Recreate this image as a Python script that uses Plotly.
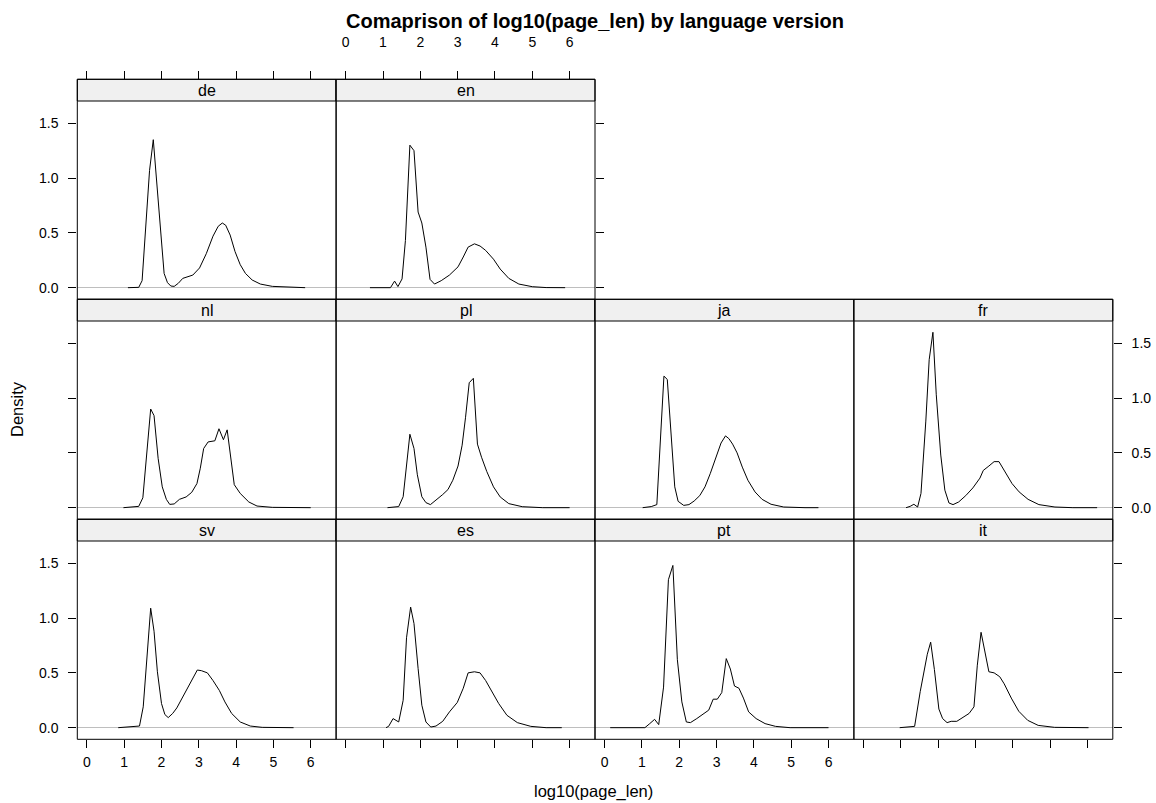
import plotly.graph_objects as go

W, H = 1156, 803

# ---------------- data ----------------
languages = ["de", "en", "nl", "pl", "ja", "fr", "sv", "es", "pt", "it"]

de_x = [1.10, 1.39, 1.48, 1.68, 1.78, 1.91, 1.98, 2.07, 2.16, 2.25, 2.34, 2.45, 2.57, 2.70, 2.84, 3.02, 3.20, 3.38, 3.52, 3.63, 3.72, 3.84, 3.97, 4.11, 4.25, 4.43, 4.65, 4.97, 5.43, 5.85]
de_y = [0.0, 0.003, 0.064, 1.07, 1.35, 0.80, 0.43, 0.13, 0.046, 0.015, 0.012, 0.04, 0.085, 0.10, 0.115, 0.18, 0.31, 0.47, 0.56, 0.59, 0.57, 0.48, 0.33, 0.21, 0.13, 0.07, 0.033, 0.012, 0.003, 0.0]

en_x = [0.65, 1.20, 1.31, 1.40, 1.51, 1.60, 1.72, 1.83, 1.94, 2.04, 2.15, 2.26, 2.38, 2.56, 2.78, 3.01, 3.15, 3.28, 3.45, 3.60, 3.75, 3.96, 4.14, 4.37, 4.64, 5.00, 5.37, 5.88]
en_y = [0.0, 0.0, 0.06, 0.01, 0.08, 0.43, 1.30, 1.25, 0.69, 0.59, 0.37, 0.076, 0.033, 0.064, 0.115, 0.19, 0.28, 0.37, 0.40, 0.38, 0.34, 0.26, 0.17, 0.085, 0.033, 0.009, 0.001, 0.0]

nl_x = [0.98, 1.39, 1.50, 1.71, 1.80, 1.91, 2.02, 2.13, 2.22, 2.34, 2.48, 2.66, 2.81, 2.95, 3.04, 3.13, 3.25, 3.43, 3.54, 3.66, 3.76, 3.86, 3.95, 4.11, 4.34, 4.56, 4.97, 6.00]
nl_y = [0.0, 0.012, 0.09, 0.90, 0.84, 0.45, 0.19, 0.076, 0.03, 0.034, 0.076, 0.098, 0.14, 0.22, 0.36, 0.54, 0.60, 0.61, 0.72, 0.62, 0.71, 0.45, 0.21, 0.13, 0.052, 0.015, 0.003, 0.0]

pl_x = [1.12, 1.42, 1.54, 1.72, 1.83, 1.92, 2.04, 2.15, 2.27, 2.42, 2.60, 2.74, 2.87, 3.01, 3.12, 3.21, 3.31, 3.42, 3.53, 3.64, 3.78, 3.96, 4.14, 4.37, 4.73, 5.28, 6.00]
pl_y = [0.0, 0.01, 0.10, 0.67, 0.54, 0.30, 0.10, 0.046, 0.028, 0.067, 0.12, 0.165, 0.25, 0.38, 0.57, 0.82, 1.14, 1.18, 0.58, 0.46, 0.33, 0.19, 0.098, 0.037, 0.009, 0.0, 0.0]

ja_x = [1.02, 1.25, 1.40, 1.59, 1.68, 1.78, 1.88, 1.97, 2.12, 2.26, 2.40, 2.55, 2.69, 2.83, 2.98, 3.12, 3.24, 3.33, 3.43, 3.55, 3.69, 3.84, 4.03, 4.22, 4.46, 4.80, 5.37, 5.73]
ja_y = [0.0, 0.01, 0.028, 1.20, 1.17, 0.63, 0.19, 0.058, 0.021, 0.028, 0.061, 0.11, 0.19, 0.31, 0.45, 0.59, 0.655, 0.63, 0.58, 0.50, 0.37, 0.25, 0.144, 0.076, 0.031, 0.006, 0.0, 0.0]

fr_x = [1.14, 1.25, 1.35, 1.45, 1.54, 1.67, 1.76, 1.86, 1.95, 2.07, 2.18, 2.29, 2.40, 2.55, 2.74, 2.93, 3.12, 3.21, 3.36, 3.50, 3.63, 3.79, 3.98, 4.17, 4.41, 4.70, 5.13, 5.61, 6.26]
fr_y = [0.0, 0.012, 0.031, 0.006, 0.13, 0.79, 1.35, 1.60, 1.03, 0.48, 0.16, 0.043, 0.028, 0.052, 0.11, 0.18, 0.27, 0.34, 0.38, 0.42, 0.42, 0.33, 0.22, 0.144, 0.076, 0.028, 0.006, 0.0, 0.0]

sv_x = [0.84, 1.16, 1.30, 1.41, 1.51, 1.62, 1.71, 1.80, 1.89, 2.00, 2.09, 2.18, 2.30, 2.41, 2.57, 2.70, 2.84, 2.96, 3.07, 3.23, 3.38, 3.55, 3.70, 3.88, 4.11, 4.38, 4.70, 5.54]
sv_y = [0.0, 0.01, 0.015, 0.015, 0.19, 0.72, 1.09, 0.88, 0.51, 0.22, 0.12, 0.092, 0.13, 0.18, 0.28, 0.37, 0.46, 0.526, 0.52, 0.50, 0.43, 0.34, 0.235, 0.13, 0.052, 0.015, 0.003, 0.0]

es_x = [1.08, 1.15, 1.27, 1.42, 1.54, 1.63, 1.74, 1.83, 1.94, 2.04, 2.15, 2.28, 2.42, 2.60, 2.78, 2.99, 3.15, 3.28, 3.45, 3.60, 3.75, 3.92, 4.10, 4.32, 4.60, 4.96, 5.37, 5.79]
es_y = [0.0, 0.012, 0.083, 0.052, 0.25, 0.82, 1.10, 0.95, 0.54, 0.205, 0.052, 0.006, 0.015, 0.058, 0.144, 0.23, 0.36, 0.50, 0.51, 0.50, 0.43, 0.33, 0.22, 0.113, 0.046, 0.012, 0.0, 0.0]

pt_x = [0.15, 1.08, 1.21, 1.34, 1.45, 1.58, 1.71, 1.83, 1.95, 2.07, 2.19, 2.30, 2.47, 2.64, 2.79, 2.91, 3.02, 3.14, 3.26, 3.37, 3.48, 3.60, 3.72, 3.86, 4.06, 4.30, 4.58, 4.97, 6.00]
pt_y = [0.0, 0.0, 0.037, 0.076, 0.028, 0.37, 1.35, 1.48, 0.62, 0.235, 0.052, 0.046, 0.083, 0.12, 0.16, 0.26, 0.26, 0.32, 0.63, 0.535, 0.38, 0.36, 0.27, 0.144, 0.083, 0.037, 0.012, 0.0, 0.0]

it_x = [0.97, 1.26, 1.37, 1.52, 1.71, 1.80, 1.90, 2.02, 2.12, 2.24, 2.35, 2.50, 2.67, 2.83, 2.96, 3.05, 3.15, 3.24, 3.36, 3.50, 3.65, 3.77, 3.96, 4.16, 4.40, 4.68, 5.12, 6.03]
it_y = [0.0, 0.01, 0.012, 0.33, 0.67, 0.78, 0.53, 0.17, 0.083, 0.046, 0.058, 0.058, 0.098, 0.13, 0.19, 0.57, 0.87, 0.71, 0.51, 0.50, 0.465, 0.40, 0.27, 0.15, 0.067, 0.021, 0.003, 0.0]

x_ticks = [0, 1, 2, 3, 4, 5, 6]
y_ticks = [0.0, 0.5, 1.0, 1.5]

series = {
    "de": (de_x, de_y), "en": (en_x, en_y), "nl": (nl_x, nl_y), "pl": (pl_x, pl_y),
    "ja": (ja_x, ja_y), "fr": (fr_x, fr_y), "sv": (sv_x, sv_y), "es": (es_x, es_y),
    "pt": (pt_x, pt_y), "it": (it_x, it_y),
}

# ---------------- layout geometry (window pixels) ----------------
XR = [-0.257, 6.68]
YR = [-0.106, 1.703]
col_edges = [77.3, 336.1, 595.0, 853.9, 1112.8]
row_tops = [79.3, 299.3, 519.3]
row_h = 220.0
strip_h = 21.7

pos = {"de": (0, 0), "en": (0, 1), "nl": (1, 0), "pl": (1, 1), "ja": (1, 2), "fr": (1, 3),
       "sv": (2, 0), "es": (2, 1), "pt": (2, 2), "it": (2, 3)}

# axis decoration: (side, ticks, labels)
xcfg = {"de": ("top", True, False), "en": ("top", True, True),
        "sv": ("bottom", True, True), "es": ("bottom", True, False),
        "pt": ("bottom", True, True), "it": ("bottom", True, False)}
ycfg = {"de": ("left", True, True), "nl": ("left", True, False), "sv": ("left", True, True),
        "en": ("right", True, False), "fr": ("right", True, True), "it": ("right", True, False)}

FONT = "Liberation Sans, Arial, Helvetica, sans-serif"
TICKFONT = dict(family=FONT, size=14, color="black")


def px_x(p):
    return p / W


def px_y(p):
    return 1 - p / H


fig = go.Figure()
layout = dict(width=W, height=H, autosize=False, margin=dict(l=0, r=0, t=0, b=0),
              paper_bgcolor="white", plot_bgcolor="white", showlegend=False)
shapes = []
annotations = []

for i, lang in enumerate(languages):
    r, c = pos[lang]
    n = "" if i == 0 else str(i + 1)
    x0p, x1p = col_edges[c], col_edges[c + 1]
    top = row_tops[r]
    plot_top = top + strip_h
    bot = top + row_h
    xs, ys = series[lang]
    fig.add_trace(go.Scatter(x=xs, y=ys, mode="lines", line=dict(color="black", width=1),
                             xaxis="x" + n, yaxis="y" + n, hoverinfo="skip"))

    xa = dict(domain=[px_x(x0p), px_x(x1p)], range=XR, showgrid=False, zeroline=False,
              showline=False, tickvals=x_ticks, ticks="", showticklabels=False,
              tickfont=TICKFONT, ticklen=8, tickwidth=1, tickcolor="black", fixedrange=True)
    if lang in xcfg:
        side, tk, lab = xcfg[lang]
        xa.update(side=side, ticks="outside", showticklabels=lab)
        if side == "top":
            xa.update(anchor="free", position=px_y(top), ticklabelstandoff=19)
        else:
            xa.update(anchor="y" + n, ticklabelstandoff=2)
    else:
        xa.update(anchor="y" + n)

    ya = dict(domain=[px_y(bot), px_y(plot_top)], range=YR, showgrid=False,
              zeroline=True, zerolinecolor="#BEBEBE", zerolinewidth=1,
              showline=False, tickvals=y_ticks, tickformat=".1f", ticks="",
              showticklabels=False, tickfont=TICKFONT, ticklen=8, tickwidth=1,
              tickcolor="black", anchor="x" + n, fixedrange=True)
    if lang in ycfg:
        side, tk, lab = ycfg[lang]
        ya.update(side=side, ticks="outside", showticklabels=lab, ticklabelstandoff=7)

    layout["xaxis" + n] = xa
    layout["yaxis" + n] = ya

    # strip
    shapes.append(dict(type="rect", xref="paper", yref="paper",
                       x0=px_x(x0p), x1=px_x(x1p), y0=px_y(plot_top), y1=px_y(top),
                       fillcolor="#F0F0F0", line=dict(color="black", width=1)))
    # panel border
    shapes.append(dict(type="rect", xref="paper", yref="paper",
                       x0=px_x(x0p), x1=px_x(x1p), y0=px_y(bot), y1=px_y(top),
                       fillcolor="rgba(0,0,0,0)", line=dict(color="black", width=1)))
    annotations.append(dict(text=lang, xref="paper", yref="paper",
                            x=px_x((x0p + x1p) / 2), y=px_y(top + strip_h / 2),
                            showarrow=False, xanchor="center", yanchor="middle",
                            font=dict(family=FONT, size=16, color="black")))

annotations.append(dict(text="<b>Comaprison of log10(page_len) by language version</b>",
                        xref="paper", yref="paper", x=px_x(595), y=px_y(21),
                        showarrow=False, xanchor="center", yanchor="middle",
                        font=dict(family=FONT, size=20, color="black")))
annotations.append(dict(text="log10(page_len)", xref="paper", yref="paper",
                        x=px_x(593), y=px_y(791), showarrow=False,
                        xanchor="center", yanchor="middle",
                        font=dict(family=FONT, size=16.5, color="black")))
annotations.append(dict(text="Density", xref="paper", yref="paper",
                        x=px_x(17), y=px_y(409), showarrow=False, textangle=-90,
                        xanchor="center", yanchor="middle",
                        font=dict(family=FONT, size=16.5, color="black")))

layout["shapes"] = shapes
layout["annotations"] = annotations
fig.update_layout(**layout)

# remove the browser's default 8px body margin so the figure fills the window exactly
fig.write_html("out.html", config={"displayModeBar": False},
               post_script="document.body.style.margin='0';document.body.style.overflow='hidden';")
